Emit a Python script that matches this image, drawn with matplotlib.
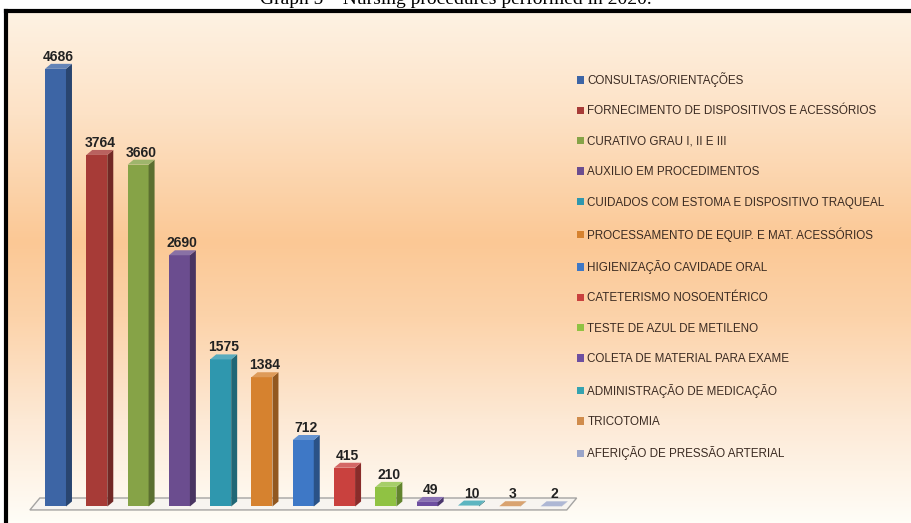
import numpy as np
import matplotlib.pyplot as plt
from matplotlib.patches import Polygon, Patch
from matplotlib.colors import to_rgb, LinearSegmentedColormap

# Nursing procedures performed in 2020
categories = [
    "CONSULTAS/ORIENTAÇÕES",
    "FORNECIMENTO DE DISPOSITIVOS E ACESSÓRIOS",
    "CURATIVO GRAU I, II E III",
    "AUXILIO EM PROCEDIMENTOS",
    "CUIDADOS COM ESTOMA E DISPOSITIVO TRAQUEAL",
    "PROCESSAMENTO DE EQUIP. E MAT. ACESSÓRIOS",
    "HIGIENIZAÇÃO CAVIDADE ORAL",
    "CATETERISMO NOSOENTÉRICO",
    "TESTE DE AZUL DE METILENO",
    "COLETA DE MATERIAL PARA EXAME",
    "ADMINISTRAÇÃO DE MEDICAÇÃO",
    "TRICOTOMIA",
    "AFERIÇÃO DE PRESSÃO ARTERIAL",
]
values = [4686, 3764, 3660, 2690, 1575, 1384, 712, 415, 210, 49, 10, 3, 2]
colors = ["#3d65a5", "#a73b37", "#86a347", "#6b4d8f", "#2f97ae", "#d6822f",
          "#3e78c6", "#c9413e", "#90c243", "#6d4fa0", "#35a3b0", "#d08c4c",
          "#9aa5c9"]

W, H = 912, 523
fig = plt.figure(figsize=(W / 100, H / 100), dpi=100)

# background panel with peach gradient and black frame (top/left)
bg = fig.add_axes([6 / W, 0, 1 - 6 / W, 512 / H])
cmap = LinearSegmentedColormap.from_list("bg", [
    (0.0, "#fdf2e3"), (0.2, "#fde2c6"), (0.45, "#fbc895"),
    (0.6, "#fcd3aa"), (0.8, "#fde9d5"), (1.0, "#fffdf7")])
bg.imshow(np.linspace(0, 1, 256)[:, None], cmap=cmap, aspect="auto",
          extent=[0, 1, 0, 1])
bg.set_xticks([])
bg.set_yticks([])
for side in ["right", "bottom"]:
    bg.spines[side].set_visible(False)
for side in ["left", "top"]:
    bg.spines[side].set_linewidth(3)
    bg.spines[side].set_color("black")

# data axes over the whole figure
ax = fig.add_axes([0, 0, 1, 1])
ax.patch.set_alpha(0)
ax.axis("off")
ax.set_xlim(-1.344, 20.74)
ax.set_ylim(-176.7, 5423)

bw = 0.508    # front face width
dx = 0.145    # depth offset in x
dy = 53.5     # depth offset in y

# floor plate
fl, fr, fdx = -0.62, 12.38, 0.24
ax.add_patch(Polygon([(fl, -37), (fr, -37), (fr + fdx, 91), (fl + fdx, 91)],
                     closed=True, facecolor="#f6f3f0", edgecolor="#8f8f8f",
                     lw=1, alpha=0.8, zorder=1))

def shade(c, f):
    r = np.array(to_rgb(c))
    return tuple(r * f) if f < 1 else tuple(r + (1 - r) * (f - 1))

for i, (v, c) in enumerate(zip(values, colors)):
    x0, x1 = i - bw / 2, i + bw / 2
    ax.bar(i, v, width=bw, color=c, zorder=3)
    ax.add_patch(Polygon([(x1, 0), (x1 + dx, dy), (x1 + dx, v + dy), (x1, v)],
                         closed=True, facecolor=shade(c, 0.68), zorder=3))
    ax.add_patch(Polygon([(x0, v), (x0 + dx, v + dy), (x1 + dx, v + dy), (x1, v)],
                         closed=True, facecolor=shade(c, 1.2), zorder=4))
    ax.annotate(str(v), (i + dx / 2, v + dy), xytext=(0, 0),
                textcoords="offset points", ha="center", va="bottom",
                fontsize=10, fontweight="bold", color="#222222",
                family=["Liberation Sans", "DejaVu Sans"], zorder=5)

handles = [Patch(facecolor=c, edgecolor="none") for c in colors]
fig.legend(handles, categories, loc="upper left",
           bbox_to_anchor=(577 / W, 1 - 72 / H), frameon=False,
           borderpad=0, borderaxespad=0, handlelength=0.6, handleheight=0.6,
           handletextpad=0.3, labelspacing=1.58, labelcolor="#3b2b22",
           prop=dict(family=["Liberation Sans", "DejaVu Sans"], size=8.4))

fig.text(0.5, 1 - 4 / H, "Graph 5 – Nursing procedures performed in 2020.",
         ha="center", va="baseline", fontsize=14,
         family=["Liberation Serif", "DejaVu Serif"])

fig.savefig("out.png", dpi=100)
